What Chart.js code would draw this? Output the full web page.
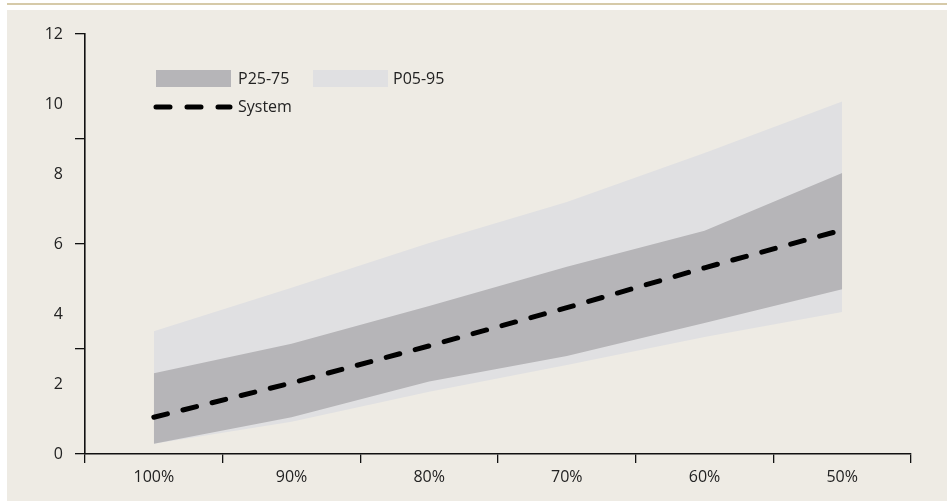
<!DOCTYPE html>
<html>
<head>
<meta charset="utf-8">
<script src="https://cdn.jsdelivr.net/npm/chart.js@4/dist/chart.umd.min.js"></script>
<style>
  html, body { margin: 0; padding: 0; background: #ffffff; }
  #wrap { width: 947px; height: 501px; position: relative; }
</style>
</head>
<body>
<div id="wrap"><canvas id="c" width="947" height="501"></canvas></div>
<script>
// Categories along the x axis
const categories = ['100%', '90%', '80%', '70%', '60%', '50%'];

// Series values
const system = [1.05, 2.03, 3.09, 4.18, 5.32, 6.40];
const p95 = [3.51, 4.75, 6.03, 7.20, 8.60, 10.07];
const p75 = [2.31, 3.15, 4.23, 5.35, 6.38, 8.03];
const p25 = [0.29, 1.05, 2.07, 2.80, 3.74, 4.71];
const p05 = [0.29, 0.92, 1.78, 2.54, 3.34, 4.06];

// Y axis: labelled values and values with tick marks
const yLabelValues = [0, 2, 4, 6, 8, 10, 12];
const yTickMarkValues = [0, 3, 6, 9, 12];

// Legend entries
const legendBand50 = 'P25-75';
const legendBand90 = 'P05-95';
const legendSystem = 'System';

const FONT = '"Open Sans", "Noto Sans", sans-serif';
const TEXT = '#222222';
const DARK_BAND = '#b6b5b8';
const LIGHT_BAND = '#e0e0e2';

const panelPlugin = {
  id: 'panel',
  beforeDraw(chart) {
    const ctx = chart.ctx;
    ctx.save();
    ctx.fillStyle = '#ffffff';
    ctx.fillRect(0, 0, chart.width, chart.height);
    ctx.fillStyle = '#eeebe4';
    ctx.fillRect(7, 10, chart.width - 7, chart.height - 10);
    ctx.strokeStyle = '#c9b88c';
    ctx.lineWidth = 1.6;
    ctx.beginPath();
    ctx.moveTo(7, 4);
    ctx.lineTo(chart.width, 4);
    ctx.stroke();
    ctx.restore();
  }
};

const legendPlugin = {
  id: 'bandLegend',
  afterDraw(chart) {
    const ctx = chart.ctx;
    ctx.save();
    ctx.font = '16px ' + FONT;
    ctx.textBaseline = 'middle';
    ctx.textAlign = 'left';

    ctx.fillStyle = DARK_BAND;
    ctx.fillRect(156, 70, 75, 17);
    ctx.fillStyle = TEXT;
    ctx.fillText(legendBand50, 238, 79);

    ctx.fillStyle = LIGHT_BAND;
    ctx.fillRect(313, 70, 75, 17);
    ctx.fillStyle = TEXT;
    ctx.fillText(legendBand90, 393, 79);

    ctx.strokeStyle = '#000000';
    ctx.lineWidth = 5;
    ctx.lineCap = 'round';
    ctx.setLineDash([14, 17]);
    ctx.beginPath();
    ctx.moveTo(156, 107);
    ctx.lineTo(230, 107);
    ctx.stroke();
    ctx.setLineDash([]);
    ctx.fillText(legendSystem, 238, 107.5);
    ctx.restore();
  }
};

new Chart(document.getElementById('c'), {
  type: 'line',
  data: {
    labels: categories,
    datasets: [
      {
        label: legendSystem,
        data: system,
        borderColor: '#000000',
        borderWidth: 5,
        borderDash: [14, 16],
        borderCapStyle: 'round',
        pointRadius: 0,
        fill: false,
        tension: 0
      },
      {
        label: 'P75',
        data: p75,
        borderColor: 'rgba(0,0,0,0)',
        borderWidth: 0,
        backgroundColor: DARK_BAND,
        pointRadius: 0,
        fill: '+1',
        tension: 0
      },
      {
        label: 'P25',
        data: p25,
        borderColor: 'rgba(0,0,0,0)',
        borderWidth: 0,
        pointRadius: 0,
        fill: false,
        tension: 0
      },
      {
        label: 'P95',
        data: p95,
        borderColor: 'rgba(0,0,0,0)',
        borderWidth: 0,
        backgroundColor: LIGHT_BAND,
        pointRadius: 0,
        fill: '+1',
        tension: 0
      },
      {
        label: 'P05',
        data: p05,
        borderColor: 'rgba(0,0,0,0)',
        borderWidth: 0,
        pointRadius: 0,
        fill: false,
        tension: 0
      }
    ]
  },
  options: {
    responsive: false,
    devicePixelRatio: 1,
    animation: false,
    layout: { padding: { left: 0, right: 36, top: 34, bottom: 0 } },
    plugins: {
      legend: { display: false },
      tooltip: { enabled: false }
    },
    scales: {
      x: {
        type: 'category',
        offset: true,
        afterFit(scale) { scale.height = 47; },
        grid: {
          offset: true,
          drawOnChartArea: false,
          drawTicks: true,
          tickLength: 9,
          color: '#111111',
          lineWidth: 1.3
        },
        border: { display: true, color: '#111111', width: 1.6 },
        ticks: {
          color: TEXT,
          font: { family: FONT, size: 16 },
          padding: 5,
          maxRotation: 0
        }
      },
      y: {
        min: 0,
        max: 12,
        afterFit(scale) { scale.width = 85; },
        afterBuildTicks(scale) {
          const vals = Array.from(new Set(yLabelValues.concat(yTickMarkValues))).sort((a, b) => a - b);
          scale.ticks = vals.map(v => ({ value: v }));
        },
        grid: {
          drawOnChartArea: false,
          drawTicks: true,
          tickLength: 10,
          lineWidth: 1.3,
          color: (c) => (c.tick && yTickMarkValues.includes(c.tick.value)) ? '#111111' : 'rgba(0,0,0,0)'
        },
        border: { display: true, color: '#111111', width: 1.6 },
        ticks: {
          color: TEXT,
          font: { family: FONT, size: 16 },
          padding: 12,
          callback: (v) => yLabelValues.includes(v) ? String(v) : ''
        }
      }
    }
  },
  plugins: [panelPlugin, legendPlugin]
});
</script>
</body>
</html>
